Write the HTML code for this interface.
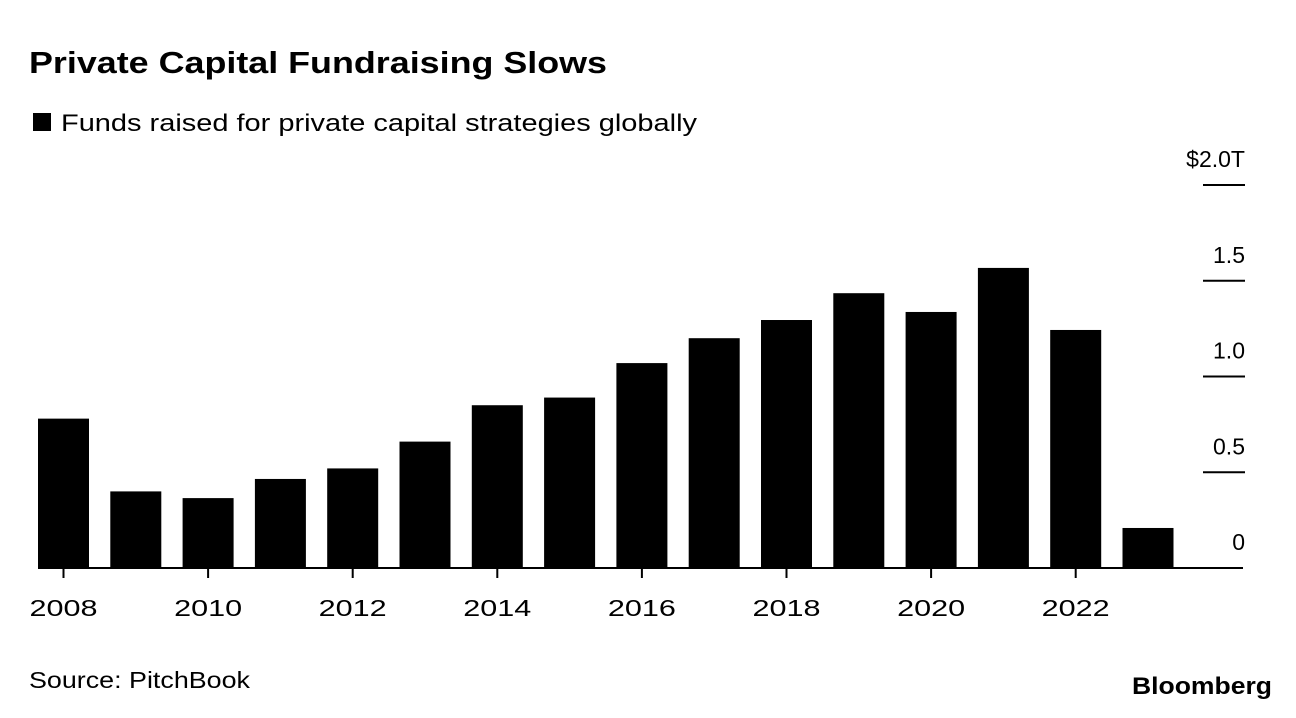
<!DOCTYPE html>
<html><head><meta charset="utf-8"><style>
body{margin:0;background:#fff;font-family:"Liberation Sans",sans-serif;color:#000}
#wrap{position:relative;width:1296px;height:718px;overflow:hidden}
</style></head><body>
<div id="wrap">
<svg width="1296" height="718">
<text x="29" y="73" font-size="31" font-weight="bold" textLength="578" lengthAdjust="spacingAndGlyphs">Private Capital Fundraising Slows</text>
<rect x="33" y="113" width="18" height="18" fill="#000"/>
<text x="61" y="131" font-size="24" textLength="636" lengthAdjust="spacingAndGlyphs">Funds raised for private capital strategies globally</text>
<g id="yaxis"></g>
<g id="bars"></g>
<g id="xaxis"></g>
<text x="29" y="688" font-size="23" textLength="221" lengthAdjust="spacingAndGlyphs">Source: PitchBook</text>
<text x="1132" y="694" font-size="24" font-weight="bold" textLength="140" lengthAdjust="spacingAndGlyphs">Bloomberg</text>
</svg></div>
<script>
const years=[2008,2009,2010,2011,2012,2013,2014,2015,2016,2017,2018,2019,2020,2021,2022,2023];
const values=[0.78,0.40,0.365,0.465,0.52,0.66,0.85,0.89,1.07,1.20,1.295,1.435,1.337,1.567,1.243,0.209];
const yTicks=[0,0.5,1.0,1.5,2.0];
const yTickLabels=["0","0.5","1.0","1.5","$2.0T"];
const xTickYears=[2008,2010,2012,2014,2016,2018,2020,2022];
const NS="http://www.w3.org/2000/svg";
const y=v=>568-v*191.5;
const x=yr=>63.5+(yr-2008)*72.3;
const bw=51;
function mk(tag,attrs,parent){const e=document.createElementNS(NS,tag);for(const k in attrs)e.setAttribute(k,attrs[k]);parent.appendChild(e);return e;}
const ya=document.getElementById('yaxis'),ba=document.getElementById('bars'),xa=document.getElementById('xaxis');
yTicks.forEach((t,i)=>{
  if(t>0){const l=mk('line',{x1:1203,x2:1245,y1:y(t),y2:y(t),stroke:'#000','stroke-width':2},ya);
  
  }
  const tx=mk('text',{x:1245,y:y(t)-18,'font-size':23,'text-anchor':'end'},ya);
  tx.textContent=yTickLabels[i];
  
  
});
years.forEach((yr,i)=>{
  const r=mk('rect',{x:x(yr)-bw/2,y:y(values[i]),width:bw,height:568-y(values[i]),fill:'#000'},ba);
  
  
});
const base=mk('line',{x1:38,x2:1243,y1:568,y2:568,stroke:'#000','stroke-width':2},xa);


xTickYears.forEach(yr=>{
  const t=mk('line',{x1:x(yr),x2:x(yr),y1:568,y2:578,stroke:'#000','stroke-width':2},xa);
  
  
  const tx=mk('text',{x:x(yr)-34,y:616,'font-size':23,textLength:68,lengthAdjust:'spacingAndGlyphs'},xa);
  tx.textContent=yr;
  
  
});
</script></body></html>
